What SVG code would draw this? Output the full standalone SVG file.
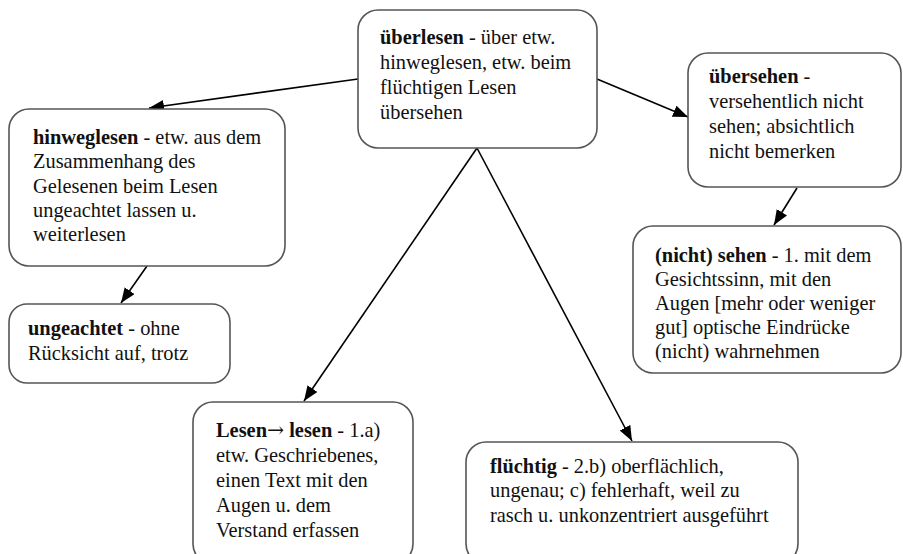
<svg xmlns="http://www.w3.org/2000/svg" width="903" height="554" viewBox="0 0 903 554">
<defs>
<style>
.box{fill:#fff;stroke:#555;stroke-width:1.6}
.t{font-family:"Liberation Serif","Times New Roman",serif;font-size:20.4px;fill:#111}
.b{font-weight:bold}
.c{stroke:#000;stroke-width:1.6;fill:none;marker-end:url(#ah)}
</style>
<marker id="ah" markerUnits="userSpaceOnUse" markerWidth="16" markerHeight="14" refX="15" refY="6" orient="auto">
<path d="M0,0 L15,6 L0,12 Z" fill="#000"/>
</marker>
</defs>
<rect width="903" height="554" fill="#fff"/>
<g id="connectors">
<line class="c" x1="358" y1="79" x2="149" y2="108"/>
<line class="c" x1="597" y1="79" x2="688" y2="117"/>
<line class="c" x1="477" y1="148" x2="304" y2="401"/>
<line class="c" x1="477" y1="148" x2="632" y2="441"/>
<line class="c" x1="147" y1="266" x2="121" y2="303"/>
<line class="c" x1="797" y1="188" x2="774" y2="225"/>
</g>
<g id="ueberlesen">
<rect class="box" x="358" y="10" width="239" height="138" rx="20"/>
<text class="t" x="380" y="44"><tspan class="b">überlesen</tspan> - über etw.</text>
<text class="t" x="380" y="69">hinweglesen, etw. beim</text>
<text class="t" x="380" y="94">flüchtigen Lesen</text>
<text class="t" x="380" y="119">übersehen</text>
</g>
<g id="hinweglesen">
<rect class="box" x="9" y="109" width="276" height="157" rx="20"/>
<text class="t" x="33" y="144"><tspan class="b">hinweglesen</tspan> - etw. aus dem</text>
<text class="t" x="33" y="168">Zusammenhang des</text>
<text class="t" x="33" y="193">Gelesenen beim Lesen</text>
<text class="t" x="33" y="217">ungeachtet lassen u.</text>
<text class="t" x="33" y="241">weiterlesen</text>
</g>
<g id="uebersehen">
<rect class="box" x="688" y="53" width="213" height="134" rx="20"/>
<text class="t" x="709" y="83"><tspan class="b">übersehen</tspan> -</text>
<text class="t" x="709" y="108">versehentlich nicht</text>
<text class="t" x="709" y="133">sehen; absichtlich</text>
<text class="t" x="709" y="158">nicht bemerken</text>
</g>
<g id="ungeachtet">
<rect class="box" x="9" y="304" width="221" height="79" rx="18"/>
<text class="t" x="28" y="335"><tspan class="b">ungeachtet</tspan> - ohne</text>
<text class="t" x="28" y="360">Rücksicht auf, trotz</text>
</g>
<g id="nicht-sehen">
<rect class="box" x="633" y="226" width="268" height="147" rx="20"/>
<text class="t" x="655" y="262"><tspan class="b">(nicht) sehen</tspan> - 1. mit dem</text>
<text class="t" x="655" y="286">Gesichtssinn, mit den</text>
<text class="t" x="655" y="310">Augen [mehr oder weniger</text>
<text class="t" x="655" y="334">gut] optische Eindrücke</text>
<text class="t" x="655" y="358">(nicht) wahrnehmen</text>
</g>
<g id="lesen">
<rect class="box" x="193" y="402" width="220" height="162" rx="20"/>
<text class="t" x="216" y="437"><tspan class="b">Lesen<tspan font-family="DejaVu Serif, serif" font-weight="normal">→</tspan> lesen</tspan> - 1.a)</text>
<text class="t" x="216" y="462">etw. Geschriebenes,</text>
<text class="t" x="216" y="487">einen Text mit den</text>
<text class="t" x="216" y="512">Augen u. dem</text>
<text class="t" x="216" y="537">Verstand erfassen</text>
</g>
<g id="fluechtig">
<rect class="box" x="466" y="442" width="332" height="122" rx="20"/>
<text class="t" x="490" y="473"><tspan class="b">flüchtig</tspan> - 2.b) oberflächlich,</text>
<text class="t" x="490" y="497">ungenau; c) fehlerhaft, weil zu</text>
<text class="t" x="490" y="522">rasch u. unkonzentriert ausgeführt</text>
</g>
</svg>
